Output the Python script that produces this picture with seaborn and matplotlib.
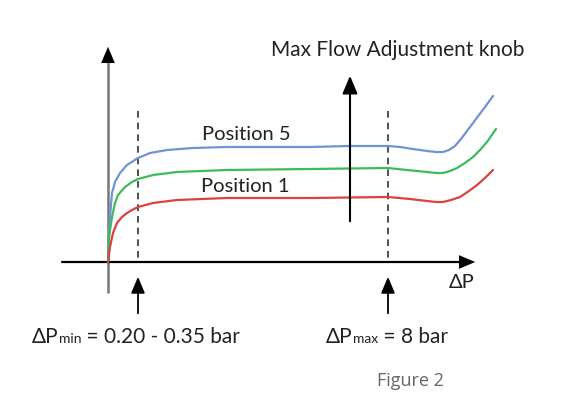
import numpy as np
import pandas as pd
import matplotlib
matplotlib.use("Agg")
import matplotlib.pyplot as plt
import seaborn as sns

# curve points (pixel-like units, y grows downward)
pos5_x = [108, 109, 110, 112, 115, 120, 127, 138, 150, 167, 193, 227, 310, 350, 388, 400, 413, 427, 436, 443, 449, 455, 461, 467, 473, 479, 485, 493]
pos5_y = [262, 240, 217, 193, 182, 173, 165, 158, 153, 150, 148, 147, 147, 146, 146, 147, 149, 151, 152, 152, 150, 146, 139, 131, 123, 115, 107, 96]
mid_x = [108, 109, 112, 115, 118, 125, 132, 138, 153, 177, 227, 310, 388, 407, 427, 436, 443, 450, 457, 465, 473, 480, 487, 496]
mid_y = [262, 237, 217, 203, 195, 187, 182, 179, 175, 172, 170, 169, 168, 170, 172, 173, 173, 171, 168, 163, 157, 150, 142, 129]
pos1_x = [108, 110, 113, 117, 122, 127, 132, 138, 153, 177, 227, 310, 388, 410, 427, 436, 443, 451, 460, 469, 477, 485, 493]
pos1_y = [262, 247, 233, 223, 217, 213, 210, 207, 203, 200, 198, 198, 197, 199, 201, 202, 202, 200, 197, 191, 185, 178, 170]
curve_names = ["Position 5", "Middle", "Position 1"]
curve_colors = ["#6f93d4", "#3dbb5a", "#d8433d"]

dp_min_x = 138
dp_max_x = 388

df = pd.concat([
    pd.DataFrame({"x": pos5_x, "y": pos5_y, "curve": curve_names[0]}),
    pd.DataFrame({"x": mid_x, "y": mid_y, "curve": curve_names[1]}),
    pd.DataFrame({"x": pos1_x, "y": pos1_y, "curve": curve_names[2]}),
])

sns.set_style("white")
plt.rcParams['font.family'] = ['Lato', 'DejaVu Sans']

fig = plt.figure(figsize=(5.61, 3.97), dpi=100)
ax = fig.add_axes([0, 0, 1, 1])
ax.set_xlim(0, 561)
ax.set_ylim(397, 0)
ax.axis("off")

head = "-|>,head_length=0.9,head_width=0.38"

# axes of the sketch
ax.plot([108, 108], [293, 56], color="#777777", lw=1.8, solid_capstyle="butt")
ax.annotate("", xy=(108, 44), xytext=(108, 60),
            arrowprops=dict(arrowstyle=head, color="black", lw=0, mutation_scale=13))
ax.plot([62, 468], [262, 262], color="black", lw=1.6)
ax.annotate("", xy=(478, 262), xytext=(462, 262),
            arrowprops=dict(arrowstyle=head, color="black", lw=0, mutation_scale=13))

# dashed limits
for xv in [dp_min_x, dp_max_x]:
    ax.plot([xv, xv], [111, 262], color="#333333", lw=1.2, ls=(0, (4, 3)))

sns.lineplot(data=df, x="x", y="y", hue="curve", palette=curve_colors,
             estimator=None, sort=False, lw=1.6, legend=False, ax=ax)

# knob arrow
ax.annotate("", xy=(350, 73), xytext=(350, 224),
            arrowprops=dict(arrowstyle=head, color="black", lw=1.5, mutation_scale=12))

# bottom arrows
for xv in [dp_min_x, dp_max_x]:
    ax.annotate("", xy=(xv, 274), xytext=(xv, 316),
                arrowprops=dict(arrowstyle=head, color="black", lw=1.3, mutation_scale=11))

tc = "#222222"
ax.text(398, 50, "Max Flow Adjustment knob", fontsize=15, ha="center", va="center", color=tc)
ax.text(246, 135, "Position 5", fontsize=14.5, ha="center", va="center", color=tc)
ax.text(245, 187, "Position 1", fontsize=14.5, ha="center", va="center", color=tc)
ax.text(462, 283, "ΔP", fontsize=14.5, ha="center", va="center", color=tc)


def chain(x, y, parts):
    fig.canvas.draw()
    r = fig.canvas.get_renderer()
    for s, fs, dy in parts:
        t = ax.text(x, y + dy, s, fontsize=fs, ha="left", va="baseline", color=tc)
        bb = t.get_window_extent(renderer=r)
        x = x + bb.width


chain(32, 343, [("ΔP", 15, 0), ("min", 10, 0), (" = 0.20 - 0.35 bar", 15, 0)])
chain(326, 343, [("ΔP", 15, 0), ("max", 10, 0), (" = 8 bar", 15, 0)])

ax.text(410, 381, "Figure 2", fontsize=13, ha="center", va="center", color="#666666",
        family=["Open Sans", "DejaVu Sans"])

fig.savefig("out.png", dpi=100)
